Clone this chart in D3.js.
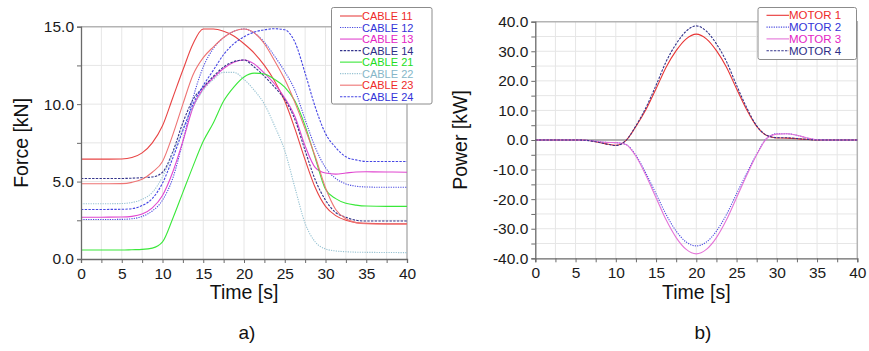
<!DOCTYPE html>
<html>
<head>
<meta charset="utf-8">
<script src="https://cdn.jsdelivr.net/npm/d3@7"></script>
<style>
  html, body { margin: 0; padding: 0; background: #fff; }
  svg { display: block; font-family: "Liberation Sans", Arial, sans-serif; }
</style>
</head>
<body>
<div id="chart"></div>
<script>
// ---- data ----
const timeSteps = [0, 2.5, 5, 6.25, 7.5, 8.75, 10, 11.25, 12.5, 13.75, 15, 16.25, 17.5, 18.75, 20,
  21.25, 22.5, 23.75, 25, 26.25, 27.5, 28.75, 30, 31.25, 32.5, 33.75, 35, 37.5, 40];

// cable forces [kN]
const cable11 = [6.45, 6.45, 6.46, 6.55, 6.85, 7.5, 8.6, 10.4, 12.2, 13.9, 14.85, 14.85, 14.7, 14.4, 13.9,
  13.3, 12.5, 11.5, 10.2, 8.4, 6.4, 4.6, 3.4, 2.8, 2.5, 2.35, 2.3, 2.28, 2.28];
const cable12 = [2.55, 2.55, 2.56, 2.6, 2.75, 3.1, 3.8, 5.2, 7.6, 10.4, 12.4, 13.6, 14.3, 14.7, 14.85,
  14.6, 14.0, 13.1, 12.1, 10.9, 9.0, 7.2, 5.9, 5.2, 4.85, 4.7, 4.65, 4.63, 4.63];
const cable13 = [2.7, 2.7, 2.71, 2.75, 2.9, 3.3, 4.1, 5.6, 7.6, 9.8, 11.0, 11.7, 12.3, 12.7, 12.85,
  12.6, 12.0, 11.3, 10.4, 9.2, 7.3, 5.9, 5.55, 5.48, 5.55, 5.62, 5.63, 5.62, 5.6];
const cable14 = [5.2, 5.2, 5.2, 5.22, 5.25, 5.3, 5.6, 6.9, 8.8, 10.3, 11.1, 11.8, 12.4, 12.75, 12.85,
  12.4, 11.8, 11.1, 10.3, 9.0, 7.0, 5.1, 3.8, 3.0, 2.7, 2.5, 2.45, 2.45, 2.45];
const cable21 = [0.58, 0.58, 0.58, 0.6, 0.62, 0.7, 1.1, 2.6, 4.3, 6.0, 7.6, 8.8, 10.2, 11.1, 11.75,
  12.0, 11.95, 11.6, 11.1, 10.2, 8.6, 6.5, 4.5, 3.9, 3.6, 3.48, 3.42, 3.4, 3.4];
const cable22 = [3.57, 3.57, 3.58, 3.65, 3.85, 4.3, 5.3, 6.8, 8.4, 9.8, 10.9, 11.6, 12.05, 12.05, 11.6,
  10.9, 10.0, 8.6, 7.0, 4.6, 2.3, 1.1, 0.65, 0.52, 0.47, 0.44, 0.43, 0.42, 0.41];
const cable23 = [4.86, 4.86, 4.87, 4.95, 5.15, 5.6, 6.3, 8.0, 10.0, 11.9, 13.0, 13.7, 14.3, 14.7, 14.85,
  14.6, 13.9, 12.8, 11.6, 10.1, 8.4, 6.6, 4.6, 3.2, 2.6, 2.35, 2.28, 2.25, 2.25];
const cable24 = [3.2, 3.2, 3.21, 3.25, 3.45, 3.9, 4.9, 6.5, 8.3, 10.0, 11.2, 12.2, 13.2, 13.9, 14.35,
  14.65, 14.8, 14.87, 14.8, 14.0, 12.0, 9.8, 8.1, 7.2, 6.6, 6.4, 6.3, 6.3, 6.3];

// motor powers [kW]
const motor1 = [0, 0, 0, -0.1, -0.6, -1.3, -1.8, -0.2, 4.6, 10.3, 17.3, 24.6, 30.2, 34.2, 35.8,
  34.2, 30.2, 24.6, 17.3, 10.3, 4.6, 1.5, 0.7, 0.65, 0.45, 0.15, 0, 0, 0];
const motor2 = [0, 0, 0, -0.1, -0.4, -0.8, -0.9, -1.5, -5.2, -11.3, -18.2, -25.2, -30.8, -34.5, -35.8,
  -34.5, -30.8, -25.2, -18.2, -11.3, -4.8, 0.6, 2.1, 2.1, 1.6, 0.7, 0.1, 0, 0];
const motor3 = [0, 0, 0, -0.1, -0.4, -0.8, -0.9, -1.5, -5.5, -12.0, -19.5, -27.0, -33.0, -37.0, -38.5,
  -37.0, -33.0, -27.0, -19.5, -12.0, -5.0, 0.5, 2.0, 2.1, 1.6, 0.7, 0.1, 0, 0];
const motor4 = [0, 0, 0, -0.1, -0.6, -1.3, -1.85, -0.2, 4.8, 11.0, 18.5, 26.5, 32.5, 36.8, 38.6,
  36.8, 32.5, 26.5, 18.5, 11.0, 4.8, 1.6, 0.8, 0.75, 0.5, 0.2, 0, 0, 0];

const timeTicks = d3.range(0, 40.01, 2.5);
const forceTicks = d3.range(0, 15.01, 2.5);
const powerTicks = d3.range(-40, 40.01, 5);

const cableSeries = [
  { name: 'CABLE 11', values: cable11, color: '#e84444', text: '#ee2a2a', dash: null },
  { name: 'CABLE 12', values: cable12, color: '#4a4ae0', text: '#3434d8', dash: '1.2,1.2' },
  { name: 'CABLE 13', values: cable13, color: '#e046d0', text: '#e424c4', dash: null },
  { name: 'CABLE 14', values: cable14, color: '#34348c', text: '#2e2e86', dash: '2.4,1.3' },
  { name: 'CABLE 21', values: cable21, color: '#3ae83a', text: '#22dd22', dash: null },
  { name: 'CABLE 22', values: cable22, color: '#96c2d2', text: '#86b6c8', dash: '1.2,1.2' },
  { name: 'CABLE 23', values: cable23, color: '#ee7474', text: '#ee2a2a', dash: null },
  { name: 'CABLE 24', values: cable24, color: '#4646e4', text: '#3434d8', dash: '2.4,1.3' }
];

const motorSeries = [
  { name: 'MOTOR 1', values: motor1, color: '#e83434', text: '#ee2a2a', dash: null },
  { name: 'MOTOR 2', values: motor2, color: '#4a4ae0', text: '#3434d8', dash: '1.2,1.2' },
  { name: 'MOTOR 3', values: motor3, color: '#e474d8', text: '#e424c4', dash: null },
  { name: 'MOTOR 4', values: motor4, color: '#34348c', text: '#2e2e86', dash: '2.4,1.3' }
];

const W = 869, H = 351;
const svg = d3.select('#chart').append('svg')
  .attr('width', W)
  .attr('height', H)
  .attr('viewBox', `0 0 ${W} ${H}`);

function drawPanel(cfg) {
  const x = d3.scaleLinear().domain([0, 40]).range([cfg.left, cfg.right]);
  const y = d3.scaleLinear().domain(cfg.yDomain).range([cfg.bottom, cfg.top]);
  const g = svg.append('g');

  // grid
  g.append('g').selectAll('line')
    .data(timeTicks.slice(1, -1))
    .join('line')
    .attr('x1', d => x(d)).attr('x2', d => x(d))
    .attr('y1', cfg.top).attr('y2', cfg.bottom)
    .attr('stroke', '#e6e6e6').attr('stroke-width', 1);
  g.append('g').selectAll('line')
    .data(cfg.yTicks.slice(1, -1))
    .join('line')
    .attr('x1', cfg.left).attr('x2', cfg.right)
    .attr('y1', d => y(d)).attr('y2', d => y(d))
    .attr('stroke', d => d === 0 && cfg.zeroLine ? '#9a9a9a' : '#e6e6e6')
    .attr('stroke-width', d => d === 0 && cfg.zeroLine ? 1.3 : 1);

  // top and right frame
  g.append('path')
    .attr('d', `M${cfg.left},${cfg.top}H${cfg.right}V${cfg.bottom}`)
    .attr('fill', 'none')
    .attr('stroke', '#b4b4b4')
    .attr('stroke-width', 1.5);

  // curves
  const line = d3.line()
    .x((d, i) => x(timeSteps[i]))
    .y(d => y(d))
    .curve(d3.curveMonotoneX);

  g.append('g').selectAll('path')
    .data(cfg.series)
    .join('path')
    .attr('d', d => line(d.values))
    .attr('fill', 'none')
    .attr('stroke', d => d.color)
    .attr('stroke-width', 1.1)
    .attr('stroke-dasharray', d => d.dash);

  // axes
  const xAxis = g.append('g')
    .attr('transform', `translate(0,${cfg.bottom})`)
    .call(d3.axisBottom(x)
      .tickValues(timeTicks)
      .tickSize(4)
      .tickPadding(5)
      .tickFormat(d => d % 5 === 0 ? d : ''));
  const yAxis = g.append('g')
    .attr('transform', `translate(${cfg.left},0)`)
    .call(d3.axisLeft(y)
      .tickValues(cfg.yTicks)
      .tickSize(4)
      .tickPadding(3)
      .tickFormat(d => d % cfg.labelStep === 0 ? d.toFixed(1) : ''));

  [xAxis, yAxis].forEach(ax => {
    ax.select('.domain').attr('stroke', '#6a6a6a').attr('stroke-width', 1.3);
    ax.selectAll('.tick line').attr('stroke', '#6a6a6a');
    ax.selectAll('.tick text')
      .attr('fill', '#1a1a1a')
      .attr('font-size', 15.5)
      .attr('font-family', '"Liberation Sans", Arial, sans-serif');
  });

  // axis titles
  g.append('text')
    .attr('x', (cfg.left + cfg.right) / 2)
    .attr('y', 299)
    .attr('text-anchor', 'middle')
    .attr('font-size', 19.5)
    .attr('fill', '#111')
    .text('Time [s]');
  g.append('text')
    .attr('transform', `translate(${cfg.titleX},${(cfg.top + cfg.bottom) / 2}) rotate(-90)`)
    .attr('text-anchor', 'middle')
    .attr('font-size', 19.5)
    .attr('fill', '#111')
    .text(cfg.yTitle);

  // panel caption
  g.append('text')
    .attr('x', cfg.captionX)
    .attr('y', 339)
    .attr('text-anchor', 'middle')
    .attr('font-size', 19)
    .attr('fill', '#111')
    .text(cfg.caption);

  // legend
  const lg = g.append('g').attr('transform', `translate(${cfg.legend.x},${cfg.legend.y})`);
  lg.append('rect')
    .attr('width', cfg.legend.w)
    .attr('height', cfg.legend.h)
    .attr('rx', 2)
    .attr('fill', '#fff')
    .attr('stroke', '#8c8c8c')
    .attr('stroke-width', 1);
  const rows = lg.selectAll('g.row')
    .data(cfg.series)
    .join('g')
    .attr('class', 'row')
    .attr('transform', (d, i) => `translate(0,${cfg.legend.first + i * cfg.legend.step})`);
  rows.append('line')
    .attr('x1', cfg.legend.lineX0).attr('x2', cfg.legend.lineX1)
    .attr('stroke', d => d.color)
    .attr('stroke-width', 1.1)
    .attr('stroke-dasharray', d => d.dash);
  rows.append('text')
    .attr('x', cfg.legend.lineX1)
    .attr('y', 4)
    .attr('font-size', cfg.legend.fontSize)
    .attr('fill', d => d.text)
    .text(d => d.name);
}

drawPanel({
  left: 81, right: 407, top: 26.7, bottom: 259,
  yDomain: [0, 15], yTicks: forceTicks, labelStep: 5,
  series: cableSeries, yTitle: 'Force [kN]', titleX: 27.5,
  caption: 'a)', captionX: 247, zeroLine: false,
  legend: { x: 331.5, y: 7.5, w: 100.5, h: 96.5, first: 8.5, step: 11.53,
    lineX0: 8.5, lineX1: 30.5, fontSize: 11 }
});

drawPanel({
  left: 535.3, right: 857.3, top: 21.7, bottom: 258.3,
  yDomain: [-40, 40], yTicks: powerTicks, labelStep: 10,
  series: motorSeries, yTitle: 'Power [kW]', titleX: 467,
  caption: 'b)', captionX: 703, zeroLine: true,
  legend: { x: 758, y: 7.5, w: 98.5, h: 52, first: 7.8, step: 11.8,
    lineX0: 8.5, lineX1: 31, fontSize: 11.5 }
});
</script>
</body>
</html>
